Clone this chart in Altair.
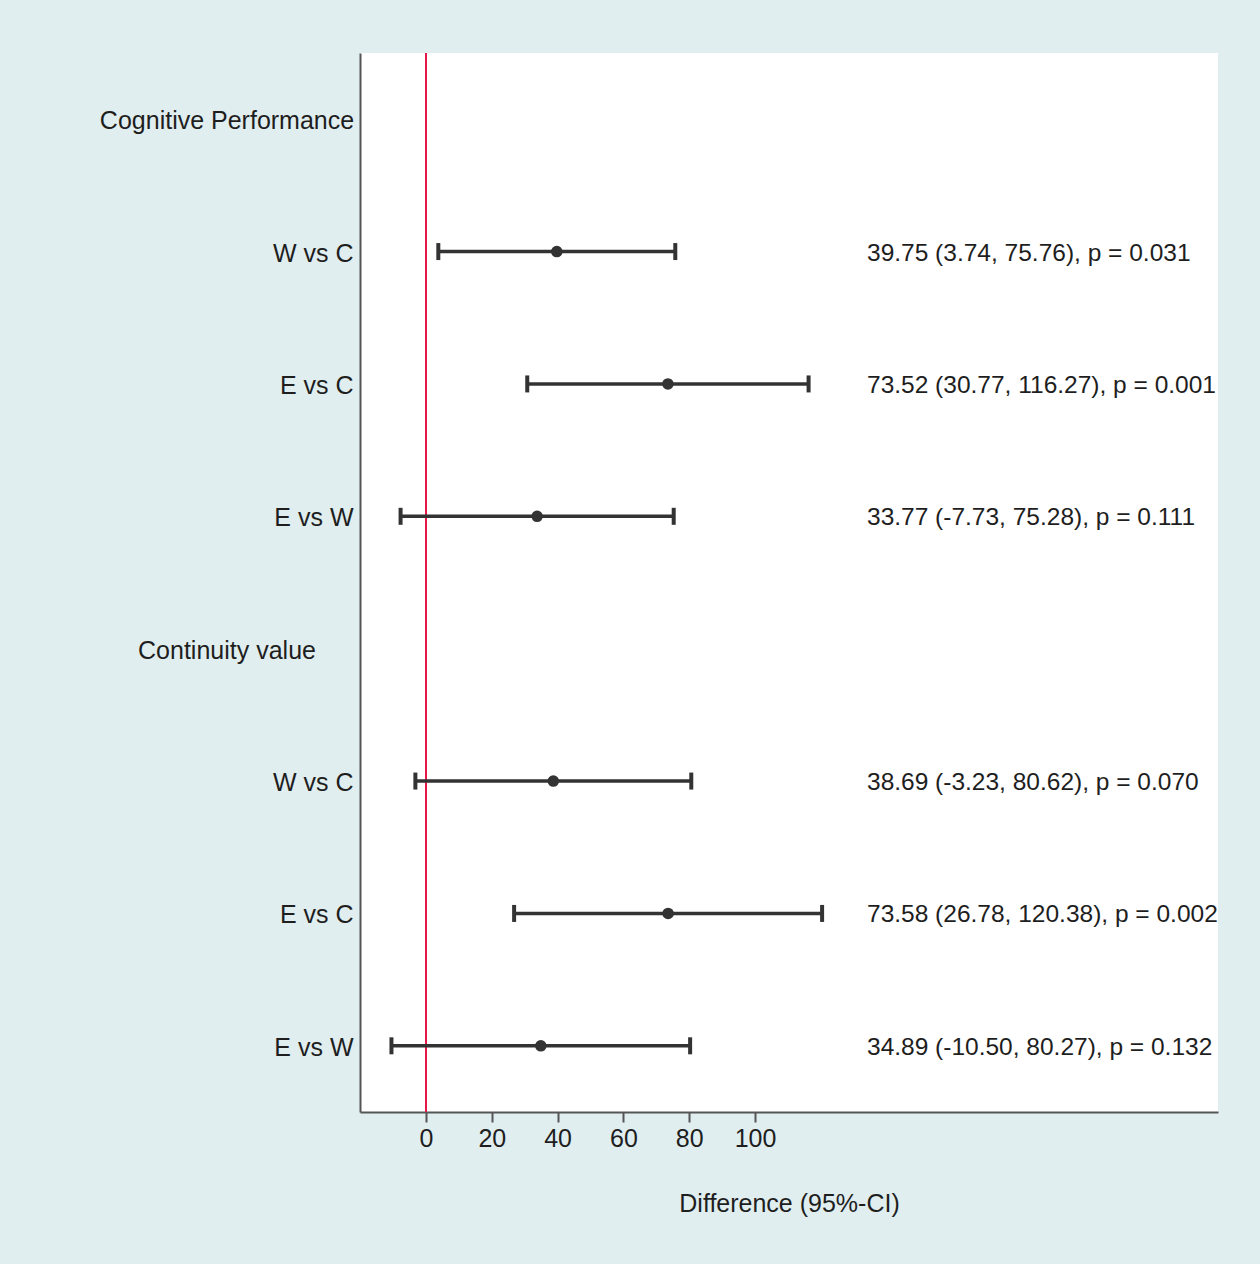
import json
import altair as alt
import pandas as pd

labels = ["Cognitive Performance", "W vs C", "E vs C", "E vs W",
          "Continuity value", "W vs C", "E vs C", "E vs W"]
is_header = [True, False, False, False, True, False, False, False]
est = [None, 39.75, 73.52, 33.77, None, 38.69, 73.58, 34.89]
lo = [None, 3.74, 30.77, -7.73, None, -3.23, 26.78, -10.50]
hi = [None, 75.76, 116.27, 75.28, None, 80.62, 120.38, 80.27]
pvals = [None, "0.031", "0.001", "0.111", None, "0.070", "0.002", "0.132"]
x_ticks = [0, 20, 40, 60, 80, 100]

rows = []
for i in range(len(labels)):
    ann = ""
    if not is_header[i]:
        ann = f"{est[i]:.2f} ({lo[i]:.2f}, {hi[i]:.2f}), p = {pvals[i]}"
    rows.append(dict(row=i, label=labels[i], header=is_header[i],
                     est=est[i], lo=lo[i], hi=hi[i], annot=ann))
df = pd.DataFrame(rows)
data_df = df[~df["header"]]
head_df = df[df["header"]]

FONT = "Liberation Sans"
FS = 25
TXT = "#1e1e1e"
DARK = "#333333"
axis_labels = json.dumps(["" if h else l for l, h in zip(labels, is_header)])

yscale = alt.Scale(paddingInner=0, paddingOuter=0)
y_enc = alt.Y("row:O", scale=yscale, sort=list(range(len(labels))),
              axis=alt.Axis(title=None, ticks=False, labelExpr=f"{axis_labels}[datum.value]",
                            labelFontSize=FS, labelFont=FONT, labelColor=TXT,
                            labelPadding=7, labelOffset=2, domainColor="#555555",
                            domainWidth=2, labelAngle=0))
xscale = alt.Scale(domain=[-20.06, 240.7], nice=False, zero=False)
x_axis = alt.Axis(values=x_ticks, title="Difference (95%-CI)", titleFontSize=FS,
                  titleFont=FONT, titleFontWeight="normal", titleColor=TXT,
                  titlePadding=40, labelFontSize=FS, labelFont=FONT, labelColor=TXT,
                  tickSize=10, tickColor="#555555", tickWidth=2, domainColor="#555555",
                  domainWidth=2, grid=False, labelPadding=4)

base = alt.Chart(data_df)

bars = base.mark_rule(color=DARK, strokeWidth=3.5).encode(
    x=alt.X("lo:Q", scale=xscale, axis=x_axis), x2="hi:Q", y=y_enc)
cap_lo = base.mark_tick(color=DARK, thickness=4, size=17, orient="vertical", opacity=1).encode(
    x=alt.X("lo:Q", scale=xscale), y=y_enc)
cap_hi = base.mark_tick(color=DARK, thickness=4, size=17, orient="vertical", opacity=1).encode(
    x=alt.X("hi:Q", scale=xscale), y=y_enc)
pts = base.mark_circle(color=DARK, size=135, opacity=1).encode(
    x=alt.X("est:Q", scale=xscale), y=y_enc)
ann = base.mark_text(align="left", baseline="middle", fontSize=24.5, font=FONT, dy=2,
                     color=TXT).encode(x=alt.value(507), y=y_enc, text="annot:N")
heads = alt.Chart(head_df).mark_text(align="center", baseline="middle", fontSize=FS, dy=2,
                                     font=FONT, color=TXT).encode(
    x=alt.value(-133), y=y_enc, text="label:N")
zero = alt.Chart(pd.DataFrame({"z": [0]})).mark_rule(color="#e8174a", strokeWidth=2).encode(
    x=alt.X("z:Q", scale=xscale))

chart = alt.layer(zero, bars, cap_lo, cap_hi, pts, ann, heads).properties(
    width=858, height=1059,
    autosize=alt.AutoSizeParams(type="none"),
    padding={"left": 360, "top": 53, "right": 42, "bottom": 152},
    background="#e1eef0",
).configure_view(fill="white", stroke=None)

chart.save("out.html", embed_options={"renderer": "svg", "actions": False})
